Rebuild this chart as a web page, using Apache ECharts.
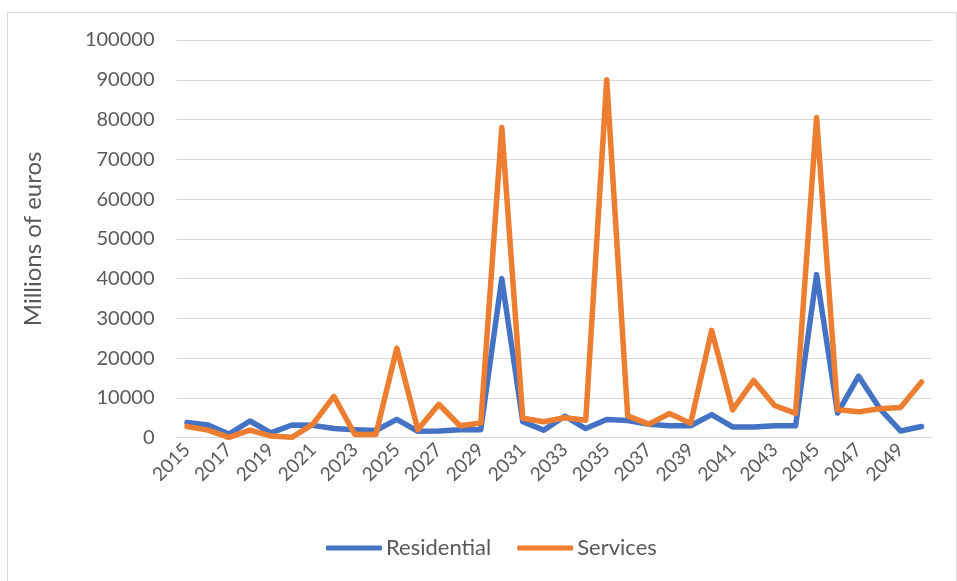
<!DOCTYPE html>
<html>
<head>
<meta charset="utf-8">
<script src="https://cdn.jsdelivr.net/npm/echarts@6/dist/echarts.min.js"></script>
<style>
  html, body { margin: 0; padding: 0; background: #ffffff; }
  #chart { width: 957px; height: 581px; }
</style>
</head>
<body>
<div id="chart"></div>
<script>
// Years on the category axis
const years = [];
for (let y = 2015; y <= 2050; y++) years.push(String(y));

// Annual amounts, millions of euros
const residential = [
  3800, 3200, 900, 4200, 1200, 3200, 3100, 2300, 2000, 1800,
  4600, 1600, 1700, 2000, 2000, 40000, 4000, 1900, 5400, 2300,
  4600, 4300, 3400, 3000, 3000, 5800, 2700, 2700, 3000, 3000,
  41000, 6200, 15500, 7400, 1700, 2800
];
const services = [
  2800, 1900, 100, 1900, 400, 100, 3400, 10400, 800, 800,
  22500, 2000, 8400, 3000, 3700, 78000, 4900, 4000, 5000, 4400,
  90000, 5500, 3400, 6100, 3600, 27000, 7000, 14400, 8100, 6100,
  80500, 7000, 6500, 7300, 7600, 14000
];

const yTicks = { min: 0, max: 100000, step: 10000 };

const labelColor = '#595959';
const gridColor = '#d9d9d9';
const fontFamily = 'Lato, "Noto Sans", sans-serif';

const chart = echarts.init(document.getElementById('chart'), null, { renderer: 'canvas' });

chart.setOption({
  animation: false,
  backgroundColor: '#ffffff',
  graphic: [{
    type: 'rect',
    left: 5, top: 10,
    shape: { width: 949, height: 600 },
    style: { fill: 'none', stroke: gridColor, lineWidth: 1 },
    silent: true,
    z: -1
  }],
  grid: { left: 176.5, right: 25, top: 40, bottom: 143.3, containLabel: false },
  legend: {
    bottom: 17,
    left: 321,
    itemWidth: 56,
    itemHeight: 5,
    itemGap: 26,
    icon: 'roundRect',
    textStyle: { color: labelColor, fontSize: 22, fontFamily: fontFamily, padding: [0, 0, 0, -1] },
    data: ['Residential', 'Services']
  },
  xAxis: {
    type: 'category',
    data: years,
    boundaryGap: true,
    axisLine: { show: true, lineStyle: { color: gridColor, width: 1 } },
    axisTick: { show: false },
    axisLabel: {
      interval: 1,
      rotate: 45,
      margin: 9,
      color: labelColor,
      fontSize: 19,
      fontFamily: fontFamily
    }
  },
  yAxis: {
    type: 'value',
    min: yTicks.min,
    max: yTicks.max,
    interval: yTicks.step,
    name: 'Millions of euros',
    nameLocation: 'middle',
    nameGap: 131,
    nameRotate: 90,
    nameTextStyle: { color: labelColor, fontSize: 24, fontFamily: fontFamily },
    axisLine: { show: false },
    axisTick: { show: false },
    splitLine: { lineStyle: { color: gridColor, width: 1 } },
    axisLabel: {
      margin: 22,
      color: labelColor,
      fontSize: 20,
      fontFamily: fontFamily,
      formatter: function (v) { return String(v); }
    }
  },
  series: [
    {
      name: 'Residential',
      type: 'line',
      data: residential,
      showSymbol: false,
      symbol: 'none',
      color: '#4472c4',
      lineStyle: { width: 5.5, color: '#4472c4', cap: 'round', join: 'round' }
    },
    {
      name: 'Services',
      type: 'line',
      data: services,
      showSymbol: false,
      symbol: 'none',
      color: '#ed7d31',
      lineStyle: { width: 5.5, color: '#ed7d31', cap: 'round', join: 'round' }
    }
  ]
});
</script>
</body>
</html>
